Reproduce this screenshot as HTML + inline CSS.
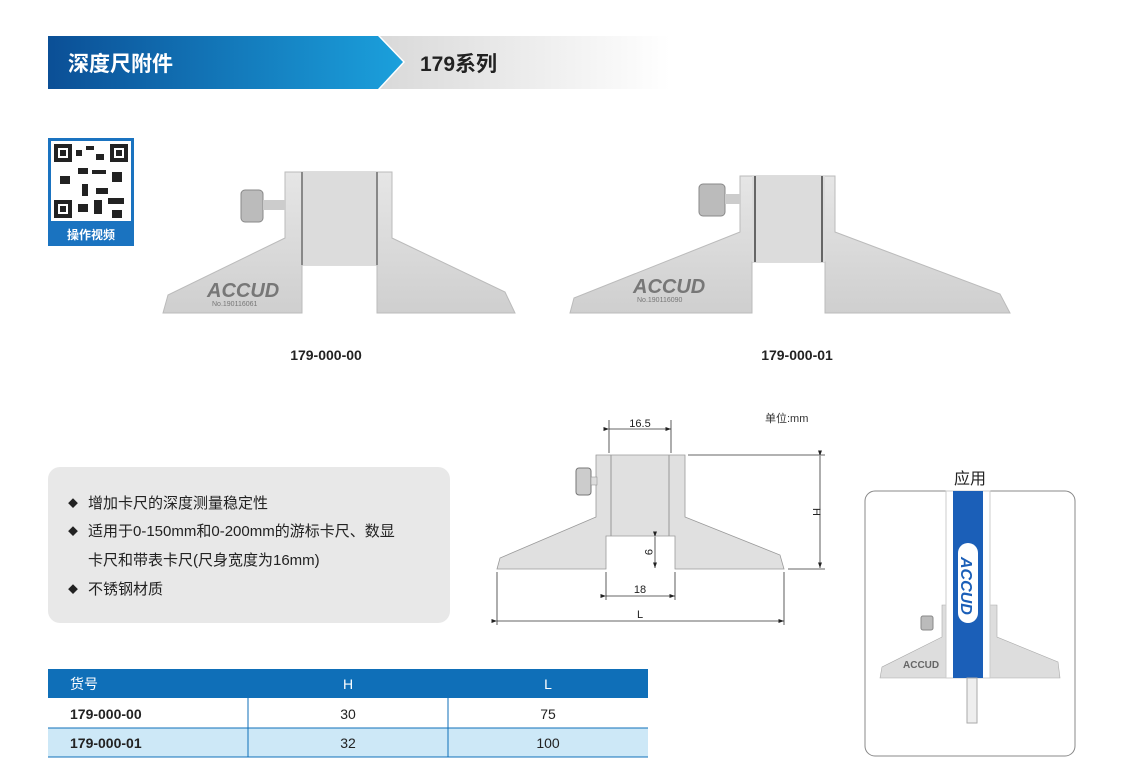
<!DOCTYPE html>
<html><head><meta charset="utf-8"><style>
body{margin:0;width:1130px;height:766px;background:#fff;position:relative;overflow:hidden;font-family:"Liberation Sans","Noto Sans CJK SC",sans-serif;}
.abs{position:absolute;}
</style></head><body>
<svg class="abs" style="left:0;top:0" width="1130" height="766" viewBox="0 0 1130 766">
<defs>
<linearGradient id="hb" x1="0" x2="1"><stop offset="0" stop-color="#0b4f96"/><stop offset="1" stop-color="#1ba0dc"/></linearGradient>
<linearGradient id="hg" x1="0" x2="1"><stop offset="0" stop-color="#d9d9d9"/><stop offset="1" stop-color="#fff"/></linearGradient>
<linearGradient id="met" x1="0" x2="0" y1="0" y2="1"><stop offset="0" stop-color="#e6e6e6"/><stop offset="1" stop-color="#cfcfcf"/></linearGradient>
<marker id="ar" markerWidth="7" markerHeight="5" refX="7" refY="2.5" orient="auto"><path d="M0,0L7,2.5L0,5z" fill="#222"/></marker>
</defs>
<polygon points="380,36 670,36 670,89 380,89 405,62" fill="url(#hg)"/>
<polygon points="48,36 378,36 403,62 378,89 48,89" fill="url(#hb)"/>
<text x="68" y="71" fill="#fff" font-size="21" font-weight="bold" font-family="Liberation Sans,Noto Sans CJK SC,sans-serif">深度尺附件</text>
<text x="420" y="71" fill="#222" font-size="21" font-weight="bold" font-family="Liberation Sans,Noto Sans CJK SC,sans-serif">179系列</text>
<rect x="48" y="138" width="86" height="108" fill="#1a73c0"/>
<rect x="51" y="141" width="80" height="80" fill="#fff"/>
<g fill="#222">
<rect x="54" y="144" width="18" height="18"/><rect x="110" y="144" width="18" height="18"/><rect x="54" y="200" width="18" height="18"/>
<rect x="76" y="150" width="6" height="6"/><rect x="86" y="146" width="8" height="4"/><rect x="96" y="154" width="8" height="6"/><rect x="78" y="168" width="10" height="6"/><rect x="92" y="170" width="14" height="4"/><rect x="60" y="176" width="10" height="8"/><rect x="112" y="172" width="10" height="10"/><rect x="82" y="184" width="6" height="12"/><rect x="96" y="188" width="12" height="6"/><rect x="78" y="204" width="10" height="8"/><rect x="94" y="200" width="8" height="14"/><rect x="108" y="198" width="16" height="6"/><rect x="112" y="210" width="10" height="8"/>
</g>
<g fill="#fff"><rect x="58" y="148" width="10" height="10"/><rect x="114" y="148" width="10" height="10"/><rect x="58" y="204" width="10" height="10"/></g>
<g fill="#222"><rect x="60" y="150" width="6" height="6"/><rect x="116" y="150" width="6" height="6"/><rect x="60" y="206" width="6" height="6"/></g>
<text x="91" y="239" text-anchor="middle" fill="#fff" font-size="12" font-weight="bold" font-family="Noto Sans CJK SC,sans-serif">操作视频</text>
<polygon points="163,313 168,295 285,238 285,172 392,172 392,238 505,292 515,313 377,313 377,265 302,265 302,313" fill="url(#met)" stroke="#bbb"/>
<rect x="302" y="172" width="75" height="93" fill="#dcdcdc"/>
<line x1="302" y1="172" x2="302" y2="265" stroke="#888" stroke-width="2"/><line x1="377" y1="172" x2="377" y2="265" stroke="#888" stroke-width="2"/>
<rect x="241" y="190" width="22" height="32" rx="4" fill="#bbb" stroke="#888"/><rect x="263" y="200" width="22" height="10" fill="#ccc"/>
<text x="207" y="297" font-size="20" font-weight="bold" fill="#777" font-style="italic">ACCUD</text>
<text x="212" y="306" font-size="7" fill="#777">No.190116061</text>
<text x="326" y="360" text-anchor="middle" font-size="14" font-weight="bold" fill="#222">179-000-00</text>
<polygon points="570,313 574,298 740,232 740,176 835,176 835,232 1000,294 1010,313 825,313 825,262 752,262 752,313" fill="url(#met)" stroke="#bbb"/>
<rect x="752" y="176" width="73" height="86" fill="#dcdcdc"/>
<line x1="755" y1="176" x2="755" y2="262" stroke="#666" stroke-width="2"/><line x1="822" y1="176" x2="822" y2="262" stroke="#666" stroke-width="2"/>
<rect x="699" y="184" width="26" height="32" rx="4" fill="#bbb" stroke="#888"/><rect x="725" y="194" width="15" height="10" fill="#ccc"/>
<text x="633" y="293" font-size="20" font-weight="bold" fill="#777" font-style="italic">ACCUD</text>
<text x="637" y="302" font-size="7" fill="#777">No.190116090</text>
<text x="797" y="360" text-anchor="middle" font-size="14" font-weight="bold" fill="#222">179-000-01</text>
<rect x="48" y="467" width="402" height="156" rx="12" fill="#e8e8e8"/>
<g font-size="15" fill="#222" font-family="Liberation Sans,Noto Sans CJK SC,sans-serif">
<text x="68" y="507" font-size="10">◆</text><text x="88" y="508">增加卡尺的深度测量稳定性</text>
<text x="68" y="535" font-size="10">◆</text><text x="88" y="536">适用于0-150mm和0-200mm的游标卡尺、数显</text>
<text x="88" y="565">卡尺和带表卡尺(尺身宽度为16mm)</text>
<text x="68" y="593" font-size="10">◆</text><text x="88" y="594">不锈钢材质</text>
</g>
<text x="765" y="422" font-size="11" fill="#333" font-family="Liberation Sans,Noto Sans CJK SC,sans-serif">单位:mm</text>
<polygon points="497,569 500,558 596,517 596,455 685,455 685,517 780,555 784,569 675,569 675,536 606,536 606,569" fill="#e0e0e0" stroke="#999" stroke-width="0.8"/>
<line x1="611" y1="455" x2="611" y2="536" stroke="#999"/><line x1="669" y1="455" x2="669" y2="536" stroke="#999"/>
<rect x="576" y="468" width="15" height="27" rx="3" fill="#ccc" stroke="#777"/><rect x="591" y="477" width="6" height="8" fill="#ddd" stroke="#888" stroke-width=".5"/>
<g stroke="#333" stroke-width="0.8" fill="none">
<line x1="609" y1="420" x2="609" y2="453"/><line x1="671" y1="420" x2="671" y2="453"/>
<line x1="609" y1="429" x2="671" y2="429" marker-start="url(#ar)" marker-end="url(#ar)"/>
<line x1="688" y1="455" x2="825" y2="455"/><line x1="788" y1="569" x2="825" y2="569"/>
<line x1="820" y1="456" x2="820" y2="568" marker-start="url(#ar)" marker-end="url(#ar)"/>
<line x1="655" y1="537" x2="655" y2="568" marker-start="url(#ar)" marker-end="url(#ar)"/>
<line x1="606" y1="572" x2="606" y2="600"/><line x1="675" y1="572" x2="675" y2="600"/>
<line x1="606" y1="596" x2="675" y2="596" marker-start="url(#ar)" marker-end="url(#ar)"/>
<line x1="497" y1="572" x2="497" y2="625"/><line x1="784" y1="572" x2="784" y2="625"/>
<line x1="497" y1="621" x2="784" y2="621" marker-start="url(#ar)" marker-end="url(#ar)"/>
</g>
<g font-size="11" fill="#222"><text x="640" y="427" text-anchor="middle">16.5</text><text x="640" y="593" text-anchor="middle">18</text><text x="640" y="618" text-anchor="middle">L</text>
<text transform="translate(813,512) rotate(90)" text-anchor="middle">H</text><text transform="translate(645,552) rotate(90)" text-anchor="middle">9</text></g>
<text x="970" y="484" text-anchor="middle" font-size="16" fill="#222" font-family="Noto Sans CJK SC,sans-serif">应用</text>
<rect x="865" y="491" width="210" height="265" rx="10" fill="#fff" stroke="#888"/>
<polygon points="880,678 882,667 942,637 942,605 997,605 997,637 1058,662 1060,678" fill="#ddd" stroke="#aaa" stroke-width=".6"/>
<rect x="946" y="491" width="44" height="187" fill="#fff" stroke="#ccc"/>
<rect x="953" y="491" width="30" height="187" fill="#1b5fb8"/>
<rect x="958" y="543" width="20" height="80" rx="10" fill="#fff"/>
<text transform="translate(961,557) rotate(90)" font-size="16" font-weight="bold" fill="#1b5fb8" font-style="italic">ACCUD</text>
<rect x="967" y="678" width="10" height="45" fill="#eee" stroke="#aaa"/>
<rect x="921" y="616" width="12" height="14" rx="2" fill="#bbb" stroke="#888"/>
<text x="903" y="668" font-size="10" font-weight="bold" fill="#666">ACCUD</text>
<rect x="48" y="669" width="600" height="29" fill="#0f6fb8"/>
<rect x="48" y="698" width="600" height="30" fill="#fff"/>
<rect x="48" y="728" width="600" height="29" fill="#cde8f7"/>
<g stroke="#0f6fb8" stroke-width="1"><line x1="48" y1="728" x2="648" y2="728"/><line x1="48" y1="757" x2="648" y2="757"/>
<line x1="248" y1="669" x2="248" y2="757"/><line x1="448" y1="669" x2="448" y2="757"/></g>
<g font-size="14" fill="#fff" font-family="Liberation Sans,Noto Sans CJK SC,sans-serif"><text x="70" y="689">货号</text><text x="348" y="689" text-anchor="middle">H</text><text x="548" y="689" text-anchor="middle">L</text></g>
<g font-size="14" fill="#222"><text x="70" y="719" font-weight="bold">179-000-00</text><text x="348" y="719" text-anchor="middle">30</text><text x="548" y="719" text-anchor="middle">75</text>
<text x="70" y="748" font-weight="bold">179-000-01</text><text x="348" y="748" text-anchor="middle">32</text><text x="548" y="748" text-anchor="middle">100</text></g>
</svg>
</body></html>
